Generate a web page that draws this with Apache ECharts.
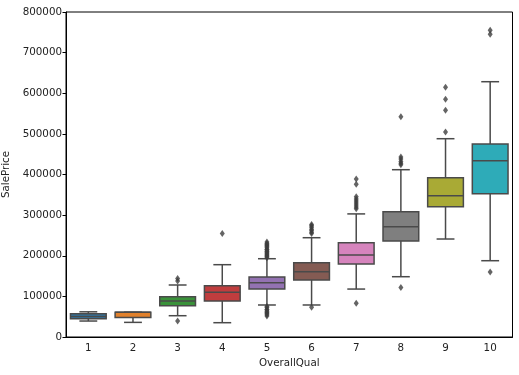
<!DOCTYPE html>
<html><head><meta charset="utf-8">
<script src="https://cdn.jsdelivr.net/npm/echarts@6/dist/echarts.min.js"></script>
<style>html,body{margin:0;padding:0;background:#fff}#c{width:519px;height:375px}</style>
</head><body><div id="c"></div><script>
const categories = ['1','2','3','4','5','6','7','8','9','10'];
const lowWhisker  = [39300, 36000, 52400, 35200, 78800, 78800, 118000, 148400, 241200, 187800];
const q1          = [44700, 48000, 77000, 88600, 118000, 140300, 179700, 236300, 320700, 352700];
const median      = [50200, 61000, 88600, 110000, 133500, 160700, 202000, 271500, 347800, 433900];
const q3          = [57000, 61000, 99200, 126300, 148000, 183000, 232000, 308400, 392100, 475000];
const highWhisker = [62000, 61000, 128000, 178000, 192700, 244400, 303000, 411800, 488100, 628400];
const outliers1 = [];
const outliers2 = [];
const outliers3 = [144000, 138000, 39300];
const outliers4 = [255000];
const outliers5 = [234000, 230000, 228000, 225000, 223000, 219500, 216000, 215000, 212000, 210000, 207500, 205000, 202500, 200000, 198000, 195000, 75000, 72500, 68000, 66500, 62500, 60000, 58500, 55000, 52000];
const outliers6 = [277000, 274000, 270000, 265000, 262000, 258000, 255000, 73000];
const outliers7 = [389000, 376000, 345000, 340000, 335000, 330000, 325000, 320000, 316000, 83000];
const outliers8 = [542000, 443000, 438000, 432000, 428000, 424000, 122000];
const outliers9 = [615000, 585000, 558000, 504600];
const outliers10 = [755000, 745000, 160000];
const yTicks = [0, 100000, 200000, 300000, 400000, 500000, 600000, 700000, 800000];

const boxColors = ['#3274a1','#e1812c','#3a923a','#c03d3e','#9372b2','#845b53','#d684bd','#7f7f7f','#a9aa35','#2eabb8'];
const lineColor = '#4a4a4a';
const FONT = 'DejaVu Sans';
const FS = 10.3;

const allOutliers = [outliers1,outliers2,outliers3,outliers4,outliers5,outliers6,outliers7,outliers8,outliers9,outliers10];
const boxData = categories.map((c,i)=>[i, lowWhisker[i], q1[i], median[i], q3[i], highWhisker[i]]);
const outData = [];
allOutliers.forEach((arr,i)=>arr.forEach(v=>outData.push([i, v])));

function renderBox(params, api){
  const i = api.value(0);
  const band = api.size([1,0])[0];
  const bw = band*0.8, cw = band*0.4;
  const pLow = api.coord([i, api.value(1)]);
  const pQ1 = api.coord([i, api.value(2)]);
  const pMed = api.coord([i, api.value(3)]);
  const pQ3 = api.coord([i, api.value(4)]);
  const pHigh = api.coord([i, api.value(5)]);
  const x = pQ1[0];
  const ls = {stroke: lineColor, lineWidth: 1.5};
  return {type:'group', children:[
    {type:'line', shape:{x1:x,y1:pQ1[1],x2:x,y2:pLow[1]}, style:ls},
    {type:'line', shape:{x1:x,y1:pQ3[1],x2:x,y2:pHigh[1]}, style:ls},
    {type:'line', shape:{x1:x-cw/2,y1:pLow[1],x2:x+cw/2,y2:pLow[1]}, style:ls},
    {type:'line', shape:{x1:x-cw/2,y1:pHigh[1],x2:x+cw/2,y2:pHigh[1]}, style:ls},
    {type:'rect', shape:{x:x-bw/2,y:pQ3[1],width:bw,height:pQ1[1]-pQ3[1]}, style:{fill:boxColors[i], stroke:lineColor, lineWidth:1.5}},
    {type:'line', shape:{x1:x-bw/2,y1:pMed[1],x2:x+bw/2,y2:pMed[1]}, style:ls}
  ]};
}

const chart = echarts.init(document.getElementById('c'), null, {renderer:'canvas'});
chart.setOption({
  animation:false,
  backgroundColor:'#fff',
  grid:{left:66, right:6.5, top:12, bottom:38, containLabel:false, outerBoundsMode:'none', show:true, borderColor:'#000', borderWidth:1},
  xAxis:{type:'category', data:categories, boundaryGap:true,
    name:'OverallQual', nameLocation:'middle', nameGap:20,
    nameTextStyle:{fontFamily:FONT, fontSize:FS, color:'#222'},
    axisLine:{lineStyle:{color:'#000', width:1}},
    axisTick:{alignWithLabel:true, length:3.5, lineStyle:{color:'#000'}},
    axisLabel:{fontFamily:FONT, fontSize:FS, color:'#222', margin:6},
    splitLine:{show:false}},
  yAxis:{type:'value', min:yTicks[0], max:yTicks[yTicks.length-1], interval:yTicks[1]-yTicks[0],
    name:'SalePrice', nameLocation:'middle', nameGap:34,
    nameTextStyle:{fontFamily:FONT, fontSize:FS, color:'#222'},
    axisLine:{show:true, lineStyle:{color:'#000', width:1}},
    axisTick:{show:true, length:3.5, lineStyle:{color:'#000'}},
    axisLabel:{fontFamily:FONT, fontSize:FS, color:'#222', margin:4, formatter:v=>String(v)},
    splitLine:{show:false}},
  series:[
    {type:'custom', renderItem:renderBox, data:boxData, encode:{x:0, y:[1,2,3,4,5]}, z:2},
    {type:'scatter', data:outData, symbol:'diamond', symbolSize:[5,7], itemStyle:{color:'#3d3d3d'}, z:3}
  ]
});
</script></body></html>
